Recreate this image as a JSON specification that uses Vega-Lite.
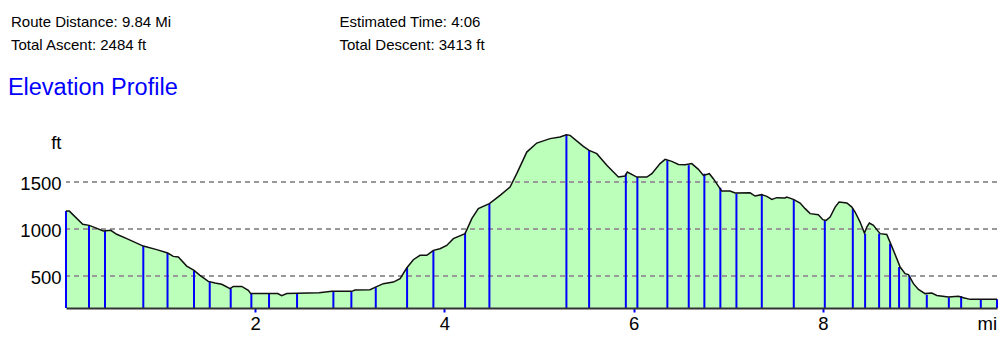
{
  "$schema": "https://vega.github.io/schema/vega-lite/v6.json",
  "width": 931,
  "height": 183,
  "autosize": "none",
  "padding": {"left": 66, "top": 125, "right": 4, "bottom": 43},
  "background": "white",
  "config": {"view": {"stroke": null}, "font": "Liberation Sans"},
  "datasets": {
    "profile": [
      {"d":0,"e":1191},{"d":0.035,"e":1191},{"d":0.177,"e":1050},{"d":0.246,"e":1039},{"d":0.307,"e":1015},{"d":0.394,"e":979},{"d":0.473,"e":986},{"d":0.536,"e":944},{"d":0.642,"e":898},{"d":0.817,"e":819},{"d":0.959,"e":781},{"d":1.075,"e":745},{"d":1.134,"e":709},{"d":1.187,"e":702},{"d":1.276,"e":606},{"d":1.353,"e":560},{"d":1.416,"e":507},{"d":1.504,"e":443},{"d":1.575,"e":425},{"d":1.646,"e":412},{"d":1.734,"e":366},{"d":1.768,"e":390},{"d":1.857,"e":390},{"d":1.927,"e":348},{"d":1.952,"e":313},{"d":2.238,"e":313},{"d":2.28,"e":291},{"d":2.333,"e":313},{"d":2.674,"e":323},{"d":2.809,"e":337},{"d":3.02,"e":337},{"d":3.055,"e":351},{"d":3.214,"e":355},{"d":3.266,"e":380},{"d":3.354,"e":419},{"d":3.46,"e":436},{"d":3.531,"e":472},{"d":3.601,"e":585},{"d":3.671,"e":674},{"d":3.742,"e":720},{"d":3.813,"e":720},{"d":3.883,"e":773},{"d":3.953,"e":791},{"d":4.024,"e":826},{"d":4.094,"e":898},{"d":4.218,"e":951},{"d":4.289,"e":1111},{"d":4.358,"e":1217},{"d":4.475,"e":1270},{"d":4.588,"e":1358},{"d":4.693,"e":1447},{"d":4.764,"e":1589},{"d":4.87,"e":1819},{"d":4.976,"e":1915},{"d":5.116,"e":1962},{"d":5.222,"e":1979},{"d":5.289,"e":2004},{"d":5.328,"e":1997},{"d":5.468,"e":1880},{"d":5.529,"e":1837},{"d":5.61,"e":1802},{"d":5.716,"e":1678},{"d":5.838,"e":1553},{"d":5.909,"e":1564},{"d":5.933,"e":1606},{"d":6.033,"e":1553},{"d":6.139,"e":1553},{"d":6.192,"e":1589},{"d":6.279,"e":1696},{"d":6.332,"e":1742},{"d":6.403,"e":1720},{"d":6.473,"e":1688},{"d":6.543,"e":1685},{"d":6.614,"e":1696},{"d":6.684,"e":1635},{"d":6.737,"e":1571},{"d":6.8,"e":1589},{"d":6.842,"e":1536},{"d":6.913,"e":1430},{"d":6.931,"e":1404},{"d":7.019,"e":1404},{"d":7.072,"e":1383},{"d":7.23,"e":1385},{"d":7.283,"e":1351},{"d":7.354,"e":1366},{"d":7.407,"e":1348},{"d":7.46,"e":1316},{"d":7.513,"e":1334},{"d":7.6,"e":1330},{"d":7.618,"e":1340},{"d":7.688,"e":1316},{"d":7.759,"e":1277},{"d":7.812,"e":1217},{"d":7.865,"e":1164},{"d":7.952,"e":1153},{"d":7.999,"e":1100},{"d":8.034,"e":1092},{"d":8.076,"e":1128},{"d":8.129,"e":1234},{"d":8.171,"e":1287},{"d":8.253,"e":1277},{"d":8.306,"e":1234},{"d":8.34,"e":1181},{"d":8.393,"e":1074},{"d":8.439,"e":957},{"d":8.464,"e":1021},{"d":8.491,"e":1064},{"d":8.534,"e":1039},{"d":8.576,"e":986},{"d":8.605,"e":951},{"d":8.675,"e":943},{"d":8.728,"e":816},{"d":8.781,"e":685},{"d":8.816,"e":596},{"d":8.869,"e":525},{"d":8.904,"e":515},{"d":8.957,"e":419},{"d":9.01,"e":358},{"d":9.08,"e":313},{"d":9.151,"e":319},{"d":9.204,"e":294},{"d":9.327,"e":276},{"d":9.432,"e":284},{"d":9.485,"e":270},{"d":9.556,"e":252},{"d":9.84,"e":252}
    ],
    "waypoints": [
      {"d":0,"e":1191},{"d":0.243,"e":1039},{"d":0.412,"e":979},{"d":0.817,"e":819},{"d":1.073,"e":745},{"d":1.353,"e":560},{"d":1.519,"e":438},{"d":1.741,"e":369},{"d":1.959,"e":313},{"d":2.146,"e":313},{"d":2.442,"e":316},{"d":2.826,"e":337},{"d":3.016,"e":337},{"d":3.274,"e":380},{"d":3.605,"e":590},{"d":3.883,"e":773},{"d":4.218,"e":960},{"d":4.475,"e":1270},{"d":5.289,"e":2004},{"d":5.529,"e":1840},{"d":5.917,"e":1589},{"d":6.039,"e":1553},{"d":6.356,"e":1731},{"d":6.582,"e":1680},{"d":6.747,"e":1589},{"d":6.916,"e":1440},{"d":7.086,"e":1377},{"d":7.354,"e":1366},{"d":7.692,"e":1316},{"d":8.02,"e":1092},{"d":8.316,"e":1217},{"d":8.446,"e":951},{"d":8.594,"e":951},{"d":8.71,"e":845},{"d":8.805,"e":596},{"d":8.914,"e":507},{"d":9.098,"e":300},{"d":9.331,"e":272},{"d":9.461,"e":287},{"d":9.669,"e":252},{"d":9.84,"e":252}
    ],
    "grid": [{"g":500},{"g":1000},{"g":1500}]
  },
  "layer": [
    {
      "data": {"name": "profile"},
      "mark": {"type": "area", "color": "#BBFFBB", "opacity": 1},
      "encoding": {
        "x": {"field": "d", "type": "quantitative",
          "scale": {"domain": [0, 9.84], "nice": false, "zero": false},
          "axis": {"orient": "bottom", "values": [2,4,6,8], "format": "d", "grid": false, "zindex": 1,
            "domainColor": "#333333", "domainWidth": 2,
            "tickColor": "#0000FF", "tickWidth": 2, "tickSize": 4,
            "labelFontSize": 18.5, "labelColor": "#000000", "labelPadding": 2, "labelFont": "Liberation Sans",
            "title": "mi", "titleX": 911, "titleY": 21, "titleAlign": "left", "titleBaseline": "alphabetic", "titleAngle": 0,
            "titleFontSize": 18.5, "titleFontWeight": "normal", "titleColor": "#000000", "titleFont": "Liberation Sans"}},
        "y": {"field": "e", "type": "quantitative",
          "scale": {"domain": [160, 2107], "nice": false, "zero": false},
          "axis": {"orient": "left", "values": [500,1000,1500], "format": "d", "grid": false, "domain": false, "ticks": false, "tickSize": 0,
            "labelFontSize": 18.5, "labelColor": "#000000", "labelPadding": 5, "labelOffset": 1, "labelFont": "Liberation Sans",
            "title": "ft", "titleX": -5, "titleY": 23, "titleAlign": "right", "titleBaseline": "alphabetic", "titleAngle": 0,
            "titleFontSize": 18.5, "titleFontWeight": "normal", "titleColor": "#000000", "titleFont": "Liberation Sans"}},
        "y2": {"datum": 160}
      }
    },
    {
      "data": {"name": "grid"},
      "mark": {"type": "rule", "color": "#999999", "strokeWidth": 2, "strokeDash": [5, 4]},
      "encoding": {
        "y": {"field": "g", "type": "quantitative", "scale": {"domain": [160, 2107], "nice": false, "zero": false}, "axis": null}
      }
    },
    {
      "data": {"name": "waypoints"},
      "mark": {"type": "rule", "color": "#0000FF", "strokeWidth": 2},
      "encoding": {
        "x": {"field": "d", "type": "quantitative",
          "scale": {"domain": [0, 9.84], "nice": false, "zero": false},
          "axis": {"orient": "top", "labels": false, "ticks": false, "domain": false, "grid": false,
            "title": ["Route Distance: 9.84 Mi", "Total Ascent: 2484 ft"],
            "titleX": -55.5, "titleY": -99, "titleAlign": "left", "titleBaseline": "alphabetic", "titleAngle": 0,
            "titleLineHeight": 23.3, "titleFontSize": 15, "titleFontWeight": "normal", "titleColor": "#000000", "titleFont": "Liberation Sans"}},
        "y": {"field": "e", "type": "quantitative",
          "scale": {"domain": [160, 2107], "nice": false, "zero": false},
          "axis": {"orient": "right", "labels": false, "ticks": false, "domain": false, "grid": false,
            "title": ["Estimated Time: 4:06", "Total Descent: 3413 ft"],
            "titleX": -658, "titleY": -99, "titleAlign": "left", "titleBaseline": "alphabetic", "titleAngle": 0,
            "titleLineHeight": 23.3, "titleFontSize": 15, "titleFontWeight": "normal", "titleColor": "#000000", "titleFont": "Liberation Sans"}},
        "y2": {"datum": 160}
      }
    },
    {
      "data": {"name": "profile"},
      "mark": {"type": "line", "color": "#111111", "strokeWidth": 1.5},
      "encoding": {
        "x": {"field": "d", "type": "quantitative", "scale": {"domain": [0, 9.84], "nice": false, "zero": false}, "axis": null},
        "y": {"field": "e", "type": "quantitative",
          "scale": {"domain": [160, 2107], "nice": false, "zero": false},
          "axis": {"orient": "left", "labels": false, "ticks": false, "domain": false, "grid": false,
            "title": "Elevation Profile",
            "titleX": -58.6, "titleY": -30.7, "titleAlign": "left", "titleBaseline": "alphabetic", "titleAngle": 0,
            "titleFontSize": 23.5, "titleFontWeight": "normal", "titleColor": "#0000FF", "titleFont": "Liberation Sans"}}
      }
    }
  ]
}
